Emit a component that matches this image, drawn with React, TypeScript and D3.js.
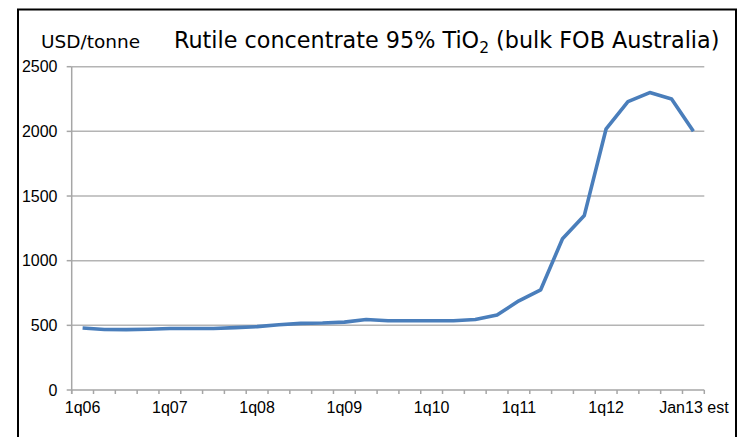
import React from "react";
import * as d3 from "d3";

const categories: string[] = [
  "1q06", "2q06", "3q06", "4q06",
  "1q07", "2q07", "3q07", "4q07",
  "1q08", "2q08", "3q08", "4q08",
  "1q09", "2q09", "3q09", "4q09",
  "1q10", "2q10", "3q10", "4q10",
  "1q11", "2q11", "3q11", "4q11",
  "1q12", "2q12", "3q12", "4q12",
  "Jan13 est",
];

const prices: number[] = [
  480, 468, 467, 470,
  475, 475, 475, 482,
  490, 505, 515, 518,
  525, 545, 535, 535,
  535, 535, 545, 580,
  690, 775, 1170, 1350,
  2020, 2230, 2300, 2250,
  2000,
];

const yTicks: number[] = [0, 500, 1000, 1500, 2000, 2500];
const xLabels: string[] = ["1q06", "1q07", "1q08", "1q09", "1q10", "1q11", "1q12", "Jan13 est"];

const W = 740;
const H = 437;
const left = 71.7;
const right = 704.3;
const top = 66.7;
const bottom = 390;

export default function App() {
  const x = d3.scaleBand<string>().domain(categories).range([left, right]).padding(0);
  const y = d3.scaleLinear().domain([0, 2500]).range([bottom, top]);
  const line = d3
    .line<number>()
    .x((_, i) => (x(categories[i]) as number) + x.bandwidth() / 2)
    .y((d) => y(d));

  const bw = x.bandwidth();
  const tickXs = categories.map((c) => x(c) as number).concat([right]);

  return (
    <svg
      width={W}
      height={H}
      style={{ position: "absolute", left: 0, top: 0, background: "#fff" }}
    >
      <rect x={0} y={0} width={W} height={H} fill="#fff" />
      {/* frame */}
      <rect x={18} y={9.5} width={718} height={440} fill="none" stroke="#000" strokeWidth={2} />

      {/* gridlines */}
      {yTicks.map((t) =>
        t === 0 ? null : (
          <line key={"g" + t} x1={left} x2={right} y1={y(t)} y2={y(t)} stroke="#b4b4b4" strokeWidth={1.5} />
        )
      )}
      {/* y axis ticks and labels */}
      {yTicks.map((t) => (
        <g key={"y" + t}>
          <line x1={left - 5} x2={left} y1={y(t)} y2={y(t)} stroke="#a6a6a6" strokeWidth={1.5} />
          <text
            x={57.5}
            y={y(t)}
            dy="0.36em"
            textAnchor="end"
            fontFamily="'Liberation Sans', Arial, sans-serif"
            fontSize={16}
            fill="#000"
          >
            {t}
          </text>
        </g>
      ))}
      {/* y axis */}
      <line x1={left} x2={left} y1={top} y2={bottom + 4} stroke="#a6a6a6" strokeWidth={1.5} />
      {/* x axis */}
      <line x1={left} x2={right} y1={bottom} y2={bottom} stroke="#a6a6a6" strokeWidth={1.5} />
      {tickXs.map((tx, i) => (
        <line key={"xt" + i} x1={tx} x2={tx} y1={bottom} y2={bottom + 4} stroke="#a6a6a6" strokeWidth={1.5} />
      ))}
      {xLabels.map((l) => (
        <text
          key={"xl" + l}
          x={(x(l) as number) + bw / 2 + (l === "Jan13 est" ? 0.5 : 0)}
          y={413.3}
          textAnchor="middle"
          fontFamily="'Liberation Sans', Arial, sans-serif"
          fontSize={16}
          fill="#000"
        >
          {l}
        </text>
      ))}

      {/* series */}
      <path d={line(prices) || ""} fill="none" stroke="#4a7ebb" strokeWidth={3.6} strokeLinejoin="round" strokeLinecap="butt" />

      {/* titles */}
      <text x={41} y={48.3} fontFamily="'DejaVu Sans', Verdana, sans-serif" fontSize={18.5} fill="#000">
        USD/tonne
      </text>
      <text x={174} y={48.3} fontFamily="'DejaVu Sans', Verdana, sans-serif" fontSize={22.3} fill="#000">
        Rutile concentrate 95% TiO
        <tspan fontSize={15.5} dy={5}>2</tspan>
        <tspan dy={-5}> (bulk FOB Australia)</tspan>
      </text>
    </svg>
  );
}
